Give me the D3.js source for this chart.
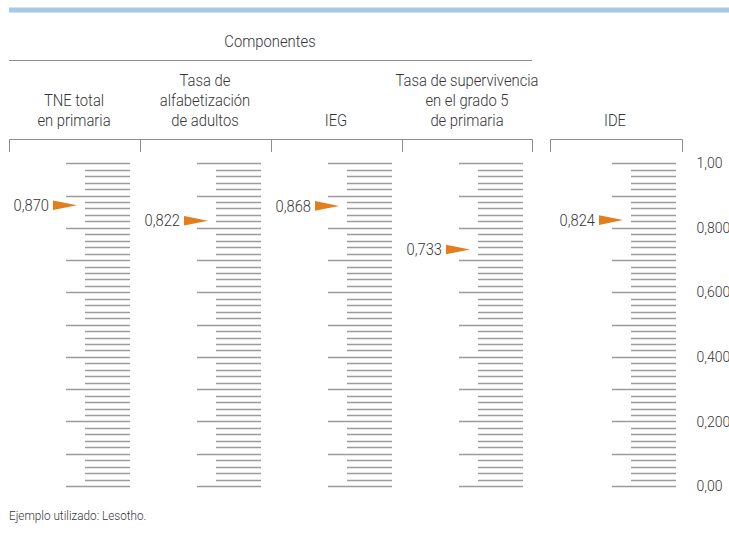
<!DOCTYPE html>
<html>
<head>
<meta charset="utf-8">
<script src="https://cdn.jsdelivr.net/npm/d3@7"></script>
<style>
  html, body { margin: 0; padding: 0; background: #ffffff; }
  svg { display: block; }
  text { font-family: Roboto, "Liberation Sans", sans-serif; font-weight: 300; fill: #363636; }
</style>
</head>
<body>
<svg id="chart" width="729" height="539"></svg>
<script>
// ---- data ----
const columnLabels = [
  ["TNE total", "en primaria"],
  ["Tasa de", "alfabetización", "de adultos"],
  ["IEG"],
  ["Tasa de supervivencia", "en el grado 5", "de primaria"],
  ["IDE"]
];
const values = [0.870, 0.822, 0.868, 0.733, 0.824];
const valueLabels = ["0,870", "0,822", "0,868", "0,733", "0,824"];
const axisTickValues = [1.0, 0.8, 0.6, 0.4, 0.2, 0.0];
const axisTickLabels = ["1,00", "0,800", "0,600", "0,400", "0,200", "0,00"];
const groupTitle = "Componentes";
const footnote = "Ejemplo utilizado: Lesotho.";

// ---- layout ----
const svg = d3.select("#chart");
const y = d3.scaleLinear().domain([0, 1]).range([486, 163.3]);
const colStart = i => i < 4 ? 66 + i * 131 : 612;
const headerCenter = i => i < 4 ? 74 + i * 131 : 615;

const grey = "#9c9c9c";
const lineGrey = "#8c8c8c";
const orange = "#e37e1c";

// condensed text helper (real text, horizontally compressed)
function label(parent, x, yPos, str, size, sx, anchor, dy) {
  return parent.append("text")
    .attr("transform", `translate(${x},${yPos}) scale(${sx},1)`)
    .attr("text-anchor", anchor || "start")
    .attr("dy", dy || null)
    .style("font-size", size + "px")
    .text(str);
}

// top blue band
svg.append("rect").attr("x", 9).attr("y", 7.5).attr("width", 720).attr("height", 5).attr("fill", "#a6cae6");

// group title
label(svg, 270, 46.5, groupTitle, 17, 0.87, "middle");
svg.append("line").attr("x1", 9).attr("x2", 532).attr("y1", 60.5).attr("y2", 60.5)
  .attr("stroke", lineGrey).attr("stroke-width", 1);

// column headers
columnLabels.forEach((lines, i) => {
  const n = lines.length;
  lines.forEach((t, j) => {
    label(svg, headerCenter(i), 125.5 - (n - 1 - j) * 20, t, 17, 0.87, "middle");
  });
});

// brackets
function bracket(x1, x2, divs) {
  const g = svg.append("g").attr("stroke", lineGrey).attr("stroke-width", 1).attr("fill", "none");
  g.append("line").attr("x1", x1).attr("x2", x2).attr("y1", 139.5).attr("y2", 139.5);
  divs.forEach(x => g.append("line").attr("x1", x).attr("x2", x).attr("y1", 139.5).attr("y2", 152));
}
bracket(9.5, 532.5, [9.5, 140.5, 271.5, 402.5, 532.5]);
bracket(550.5, 682.5, [550.5, 682.5]);

// ticks per column
const tickVals = d3.range(0, 51).map(k => k / 50);
values.forEach((v, i) => {
  const x0 = colStart(i);
  const g = svg.append("g");
  g.selectAll("line").data(tickVals).join("line")
    .attr("x1", d => (Math.round(d * 50) % 5 === 0) ? x0 : x0 + 19)
    .attr("x2", x0 + 64)
    .attr("y1", d => Math.round(y(d)) + 0.5)
    .attr("y2", d => Math.round(y(d)) + 0.5)
    .attr("stroke", grey)
    .attr("stroke-width", 1.3);

  // arrow marker
  const yy = y(v);
  const tip = x0 + 11;
  g.append("path")
    .attr("d", `M${tip - 24},${yy - 4.8} L${tip},${yy} L${tip - 24},${yy + 4.8} Z`)
    .attr("fill", orange);
  label(g, tip - 28, yy, valueLabels[i], 16, 0.92, "end", "0.35em");
});

// right axis labels
const axisG = svg.append("g");
axisTickValues.forEach((d, i) => {
  label(axisG, 696.5, y(d), axisTickLabels[i], 14.5, 0.97, "start", "0.35em");
});

// footnote
label(svg, 9, 520, footnote, 13.5, 0.87, "start");
</script>
</body>
</html>
